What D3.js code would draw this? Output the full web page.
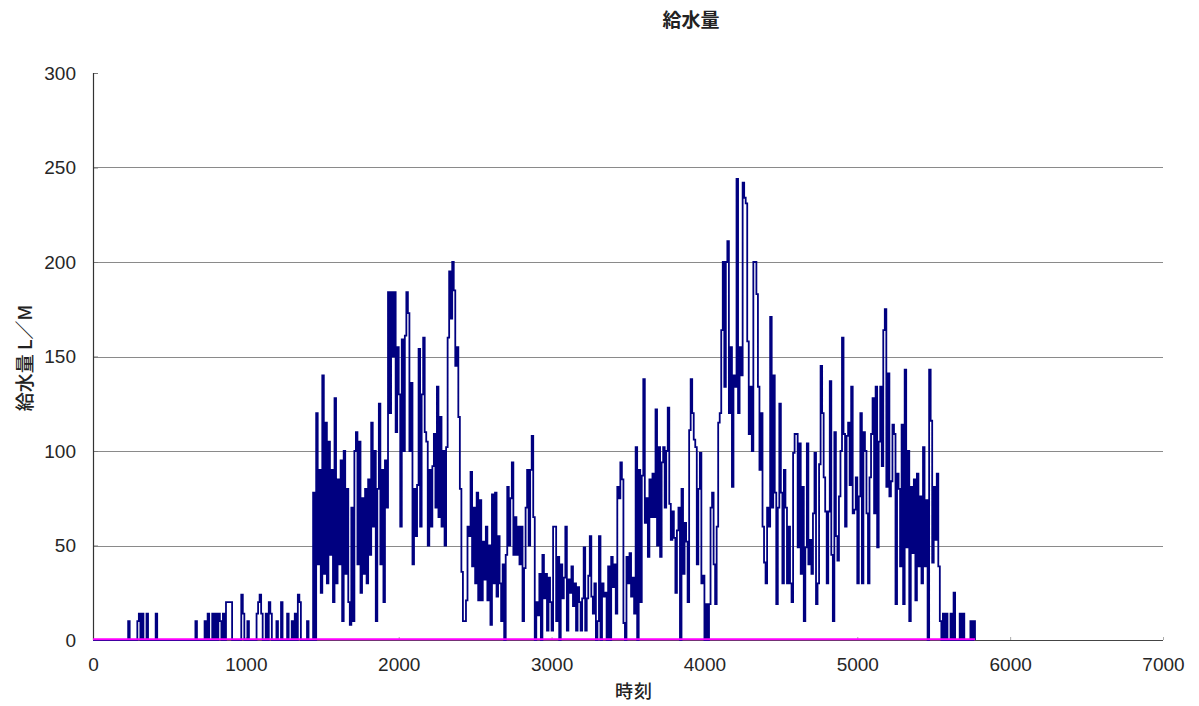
<!DOCTYPE html>
<html>
<head>
<meta charset="utf-8">
<script src="https://cdn.jsdelivr.net/npm/d3@7"></script>
<style>
  html, body { margin: 0; padding: 0; background: #fff; }
  svg { display: block; }
  .tick text {
    font-family: "Liberation Sans Narrow", "Arial Narrow", "Liberation Sans", Arial, sans-serif;
    font-size: 19px;
    fill: #262626;
  }
  .cjk { font-family: "Noto Sans CJK JP", "Noto Sans CJK SC", sans-serif; fill: #222; }
</style>
</head>
<body>
<svg id="chart" width="1199" height="706"></svg>
<script>
// Texts
const chartTitle = "給水量";
const yTitle = "給水量 L／M";
const xTitle = "時刻";

// Axis ticks
const xTicks = [0, 1000, 2000, 3000, 4000, 5000, 6000, 7000];
const yTicks = [0, 50, 100, 150, 200, 250, 300];

// Supply flow (L/M), one sample every 10 time units starting at 0
const timeStep = 10;
const flow = [
  // 0 - 990
  0,0,0,0,0,0,0,0,0,0,  0,0,0,0,0,0,0,0,0,0,
  0,0,0,10,0,0,0,0,0,10,  14,0,14,0,0,14,0,0,0,0,
  0,14,0,0,0,0,0,0,0,0,  0,0,0,0,0,0,0,0,0,0,
  0,0,0,0,0,0,0,10,0,0,  0,0,0,10,0,14,0,0,14,0,
  14,0,14,10,0,14,0,20,20,20,  20,0,0,0,0,0,0,24,14,0,
  // 1000 - 1990
  0,10,0,0,0,0,0,14,20,24,  14,0,0,14,0,20,14,0,0,0,
  10,0,0,20,0,0,0,14,0,0,  10,0,14,0,24,20,0,0,0,0,
  10,0,0,0,78,0,120,40,90,25,  140,35,115,30,105,45,90,20,128,30,
  85,40,95,10,100,35,80,20,8,70,  10,100,110,40,105,25,75,35,80,30,
  85,45,115,60,100,10,80,125,40,90,  20,95,70,184,120,184,150,184,110,155,
  // 2000 - 2990
  130,60,159,100,161,184,173,100,136,40,  80,55,82,154,60,130,160,110,105,50,
  90,60,92,109,70,134,65,118,60,100,  50,102,160,195,170,200,185,145,155,118,
  80,36,10,10,21,60,55,89,39,70,  30,78,21,74,21,52,32,60,21,50,
  8,77,30,78,23,55,30,10,40,0,  45,81,50,75,94,45,65,45,60,40,
  60,10,38,70,90,50,90,108,65,0,  20,13,35,0,45,22,35,5,33,20,
  // 3000 - 3990
  5,60,60,10,44,0,40,22,33,60,  5,32,25,39,18,30,5,28,20,5,
  22,49,5,22,34,55,23,14,30,0,  10,55,0,30,23,25,0,39,0,44,
  28,40,14,81,75,94,85,9,0,44,  30,46,23,33,14,102,0,90,20,87,
  138,62,75,44,85,65,88,65,122,50,  102,44,94,102,70,100,123,72,53,68,
  54,25,58,70,0,80,35,62,52,20,  111,138,120,106,102,40,80,99,30,34,
  // 4000 - 4990
  0,19,0,19,70,78,40,19,60,115,  120,164,200,134,200,211,120,155,81,140,
  134,244,120,155,140,242,234,231,158,109,  134,100,200,200,183,134,90,120,60,41,
  30,70,60,171,70,140,78,19,70,125,  78,30,90,70,30,60,30,20,99,109,
  109,49,104,35,81,10,49,104,40,53,  35,67,99,19,30,93,145,120,86,68,
  30,68,137,45,10,110,55,42,76,100,  160,109,60,108,115,82,134,67,69,86,
  // 5000 - 5770
  30,76,120,30,110,100,67,30,86,109,  128,67,134,49,105,134,92,164,175,81,
  141,76,84,114,109,19,88,80,39,114,  19,143,49,100,10,81,46,85,21,88,
  39,76,30,102,39,74,0,143,116,41,  81,53,88,39,10,0,14,0,14,0,
  0,14,0,25,0,0,0,14,0,14,  0,0,0,0,10,0,10,0
];
const flowTimes = flow.map((_, i) => i * timeStep);

// Second series: flat at zero over the same period
const zeroTimes = [0, 5770];
const zeroValues = [0, 0];

const svg = d3.select("#chart");

const x = d3.scaleLinear().domain([0, 7000]).range([93, 1163]);
const y = d3.scaleLinear().domain([0, 300]).range([640, 73]);

// Horizontal gridlines (between the axis and the top tick)
svg.append("g")
  .selectAll("line")
  .data(yTicks.filter(v => v > 0 && v < 300))
  .join("line")
  .attr("x1", x(0)).attr("x2", x(7000))
  .attr("y1", d => Math.round(y(d)) + 0.5).attr("y2", d => Math.round(y(d)) + 0.5)
  .attr("stroke", "#8a8a8a")
  .attr("stroke-width", 1);

// Y axis
const yAxis = svg.append("g")
  .attr("transform", `translate(${x(0)},0)`)
  .call(d3.axisLeft(y).tickValues(yTicks).tickSize(-5).tickSizeOuter(0).tickPadding(17));
yAxis.select(".domain").remove();
yAxis.selectAll(".tick line").attr("stroke", "#777");

// X axis
const xAxis = svg.append("g")
  .attr("transform", `translate(0,${y(0)})`)
  .call(d3.axisBottom(x).tickValues(xTicks).tickFormat(d3.format("d"))
    .tickSize(-3).tickSizeOuter(0).tickPadding(18));
xAxis.select(".domain").remove();
xAxis.selectAll(".tick line").attr("stroke", "#aaa");

// Axis lines
svg.append("line")
  .attr("x1", x(0) + 0.5).attr("x2", x(0) + 0.5)
  .attr("y1", y(300)).attr("y2", y(0))
  .attr("stroke", "#333").attr("stroke-width", 1.2);
svg.append("line")
  .attr("x1", x(0)).attr("x2", x(7000))
  .attr("y1", y(0) + 0.5).attr("y2", y(0) + 0.5)
  .attr("stroke", "#444").attr("stroke-width", 1.2);

// Flow series: held values between samples give the vertical-stroke look
const flowLine = d3.line()
  .curve(d3.curveStepAfter)
  .x((d, i) => x(flowTimes[i]))
  .y(d => y(d));
svg.append("path")
  .datum(flow)
  .attr("d", flowLine)
  .attr("fill", "none")
  .attr("stroke", "#000080")
  .attr("stroke-width", 1.8);

// Zero series
const zeroLine = d3.line()
  .x((d, i) => x(zeroTimes[i]))
  .y(d => y(d) - 0.8);
svg.append("path")
  .datum(zeroValues)
  .attr("d", zeroLine)
  .attr("fill", "none")
  .attr("stroke", "#ff00ff")
  .attr("stroke-width", 2);

// Titles
svg.append("text")
  .attr("class", "cjk")
  .attr("x", 691).attr("y", 18)
  .attr("text-anchor", "middle")
  .attr("dominant-baseline", "central")
  .attr("font-size", 19)
  .attr("font-weight", 700)
  .text(chartTitle);

svg.append("text")
  .attr("class", "cjk")
  .attr("transform", "translate(23,358) rotate(-90)")
  .attr("text-anchor", "middle")
  .attr("dominant-baseline", "central")
  .attr("font-size", 19)
  .attr("font-weight", 500)
  .text(yTitle);

svg.append("text")
  .attr("class", "cjk")
  .attr("x", 634).attr("y", 690)
  .attr("text-anchor", "middle")
  .attr("dominant-baseline", "central")
  .attr("font-size", 18)
  .attr("font-weight", 500)
  .attr("letter-spacing", 1)
  .text(xTitle);
</script>
</body>
</html>
